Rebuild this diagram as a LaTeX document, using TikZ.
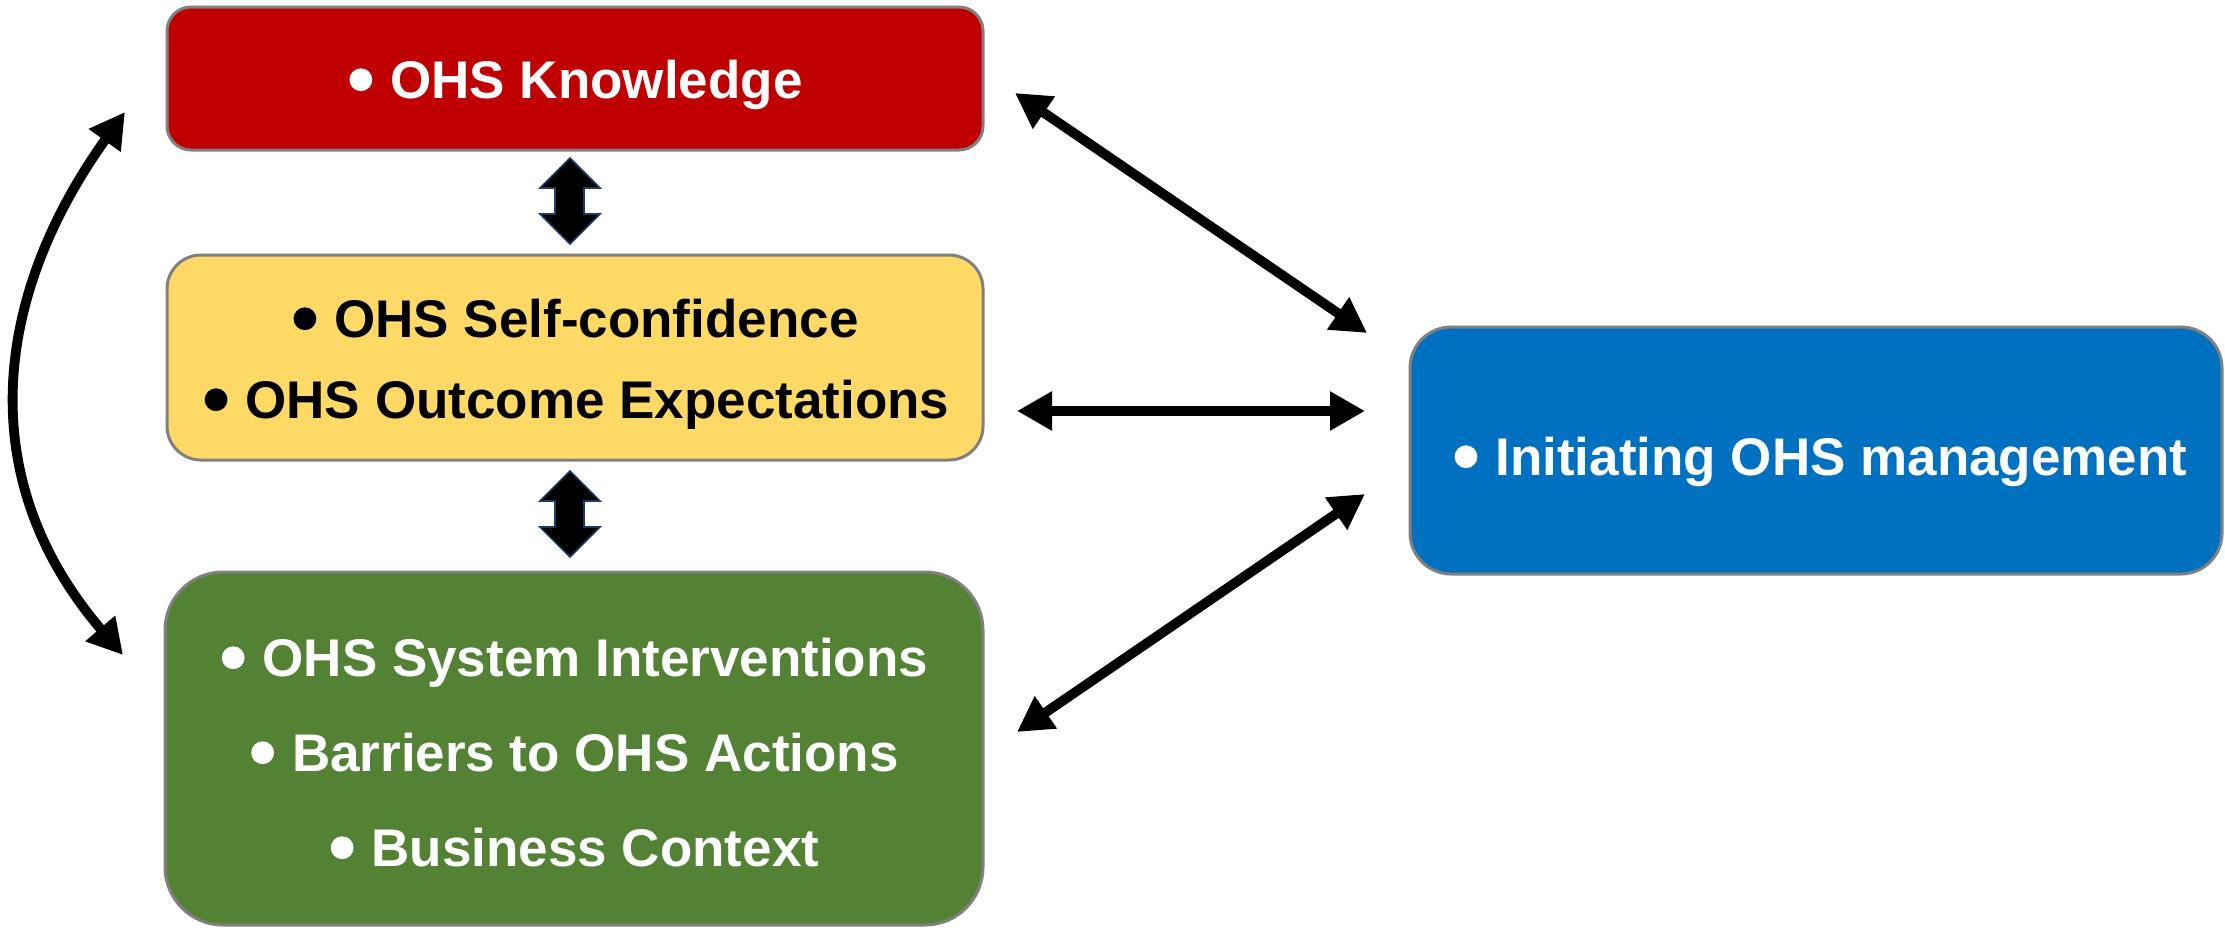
\documentclass[tikz,border=0pt]{standalone}
\usepackage{fontspec}
\setmainfont{Liberation Sans}
\usetikzlibrary{arrows.meta}
\definecolor{ohsred}{HTML}{C00000}
\definecolor{ohsyellow}{HTML}{FFD966}
\definecolor{ohsgreen}{HTML}{548235}
\definecolor{ohsblue}{HTML}{0070C0}
\definecolor{ohsborder}{HTML}{808080}
\definecolor{ohsnavy}{HTML}{1F3864}
\newcommand{\ohsdot}[1]{\tikz[baseline=0pt]\fill[#1] (0,0.345em) circle[radius=0.215em];}
\begin{document}
\begin{tikzpicture}[x=0.5pt,y=-0.5pt,
  box/.style={draw=ohsborder, line width=1.5pt, inner sep=0pt},
  txt/.style={anchor=base, inner sep=0pt, font=\bfseries\fontsize{26.5}{30}\selectfont},
  conn/.style={line width=4.9pt, {Triangle[length=17.5pt,width=18.5pt]}-{Triangle[length=17.5pt,width=18.5pt]}},
  blockarrow/.style={fill=black, draw=ohsnavy, line width=0.8pt, line join=miter}]
\useasboundingbox (0,0) rectangle (2225,927);

% boxes
\node[box, fill=ohsred, minimum width=408pt, minimum height=71.5pt, rounded corners=12pt] (know) at (575,78.5) {};
\node[box, fill=ohsyellow, minimum width=408pt, minimum height=102.5pt, rounded corners=17pt] (self) at (575,357.5) {};
\node[box, fill=ohsgreen, minimum width=409pt, minimum height=176.5pt, rounded corners=29pt] (sys) at (574,748.5) {};
\node[box, fill=ohsblue, minimum width=406pt, minimum height=123.5pt, rounded corners=20.5pt] (init) at (1816,450.5) {};

% texts
\node[txt, text=white] (knowT) at (576,98) {\ohsdot{white}\hspace{0.34em}OHS Knowledge};
\node[txt, text=black] (selfT1) at (576,337) {\ohsdot{black}\hspace{0.34em}OHS Self-confidence};
\node[txt, text=black] (selfT2) at (577,418) {\ohsdot{black}\hspace{0.34em}OHS Outcome Expectations};
\node[txt, text=white] (sysT1) at (575,676) {\ohsdot{white}\hspace{0.34em}OHS System Interventions};
\node[txt, text=white] (sysT2) at (575,771) {\ohsdot{white}\hspace{0.34em}Barriers to OHS Actions};
\node[txt, text=white] (sysT3) at (575,866) {\ohsdot{white}\hspace{0.34em}Business Context};
\node[txt, text=white] (initT) at (1821,475) {\ohsdot{white}\hspace{0.34em}Initiating OHS management};

% block double arrows between left boxes
\foreach \dy in {0,313}{
  \draw[blockarrow, yshift=-\dy*0.5pt] (570,158) -- (600,188) -- (584,188) -- (584,214) -- (600,214) -- (570,244)
    -- (540,214) -- (555,214) -- (555,188) -- (540,188) -- cycle;
}

% connector end points
\coordinate (a1s) at (1015,93);
\coordinate (a1e) at (1367,333);
\coordinate (a2s) at (1017,411);
\coordinate (a2e) at (1365,411);
\coordinate (a3s) at (1017,732);
\coordinate (a3e) at (1365,494);
\coordinate (c1s) at (125,112);
\coordinate (c1e) at (123,655);

\draw[conn] (a1s) -- (a1e);
\draw[conn] (a2s) -- (a2e);
\draw[conn] (a3s) -- (a3e);
\draw[conn] (c1s) .. controls (-8,298) and (-27,480) .. (c1e);
\end{tikzpicture}
\end{document}
